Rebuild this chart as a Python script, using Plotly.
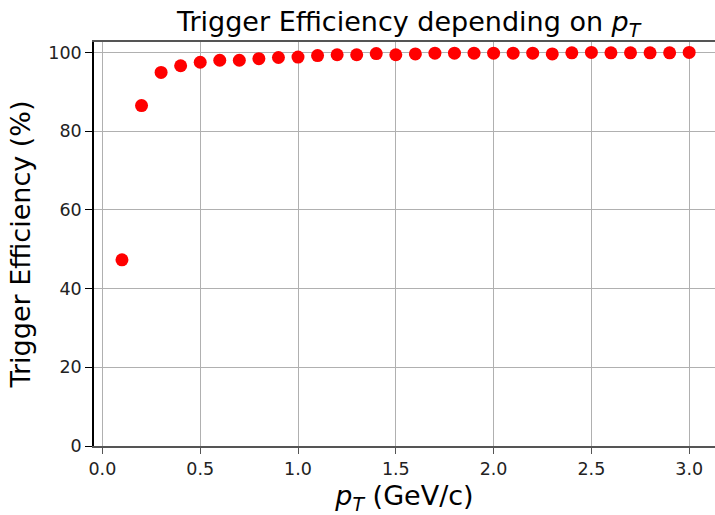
import plotly.graph_objects as go

pt = [0.1, 0.2, 0.3, 0.4, 0.5, 0.6, 0.7, 0.8, 0.9, 1.0,
      1.1, 1.2, 1.3, 1.4, 1.5, 1.6, 1.7, 1.8, 1.9, 2.0,
      2.1, 2.2, 2.3, 2.4, 2.5, 2.6, 2.7, 2.8, 2.9, 3.0]
efficiency = [47.3, 86.5, 94.9, 96.6, 97.5, 98.0, 98.0, 98.4, 98.7, 98.8,
              99.2, 99.4, 99.4, 99.7, 99.4, 99.6, 99.8, 99.8, 99.8, 99.8,
              99.8, 99.8, 99.6, 99.9, 100.0, 99.9, 99.9, 99.9, 99.9, 100.0]
x_ticks = [0.0, 0.5, 1.0, 1.5, 2.0, 2.5, 3.0]
x_tick_labels = ["0.0", "0.5", "1.0", "1.5", "2.0", "2.5", "3.0"]
y_ticks = [0, 20, 40, 60, 80, 100]
y_tick_labels = ["0", "20", "40", "60", "80", "100"]

FONT = "DejaVu Sans"

fig = go.Figure()
fig.add_trace(go.Scatter(
    x=pt, y=efficiency, mode="markers",
    marker=dict(color="#ff0000", size=13, line=dict(width=0)),
    showlegend=False,
))

fig.update_layout(
    width=715, height=515,
    margin=dict(l=94, r=0, t=42, b=69),
    paper_bgcolor="white", plot_bgcolor="white",
    font=dict(family=FONT, color="#222222"),
    title=dict(
        text="Trigger Efficiency depending on <i>p</i><sub><i>T</i></sub>",
        x=0.5715, xanchor="center", xref="container",
        y=1 - 22 / 515, yanchor="middle", yref="container",
        font=dict(family=FONT, size=27, color="#000000"),
    ),
)

fig.update_xaxes(
    range=[-0.043, 3.132],
    tickmode="array", tickvals=x_ticks, ticktext=x_tick_labels,
    tickfont=dict(family=FONT, size=17.5, color="#222222"),
    ticks="outside", ticklen=6, tickwidth=1.3, tickcolor="#555555",
    showgrid=True, gridcolor="#b0b0b0", gridwidth=1.3,
    showline=True, linecolor="#555555", linewidth=2, mirror=True,
    zeroline=False,
    title=dict(text="<i>p</i><sub><i>T</i></sub> (GeV/c)",
               font=dict(family=FONT, size=27, color="#000000"), standoff=8),
)
fig.update_yaxes(
    range=[0, 102.64],
    tickmode="array", tickvals=y_ticks, ticktext=y_tick_labels,
    tickfont=dict(family=FONT, size=17.5, color="#222222"),
    ticks="outside", ticklen=7, tickwidth=1.3, tickcolor="#000000",
    showgrid=True, gridcolor="#b0b0b0", gridwidth=1.3,
    showline=True, linecolor="#000000", linewidth=1.5, mirror=False,
    zeroline=False,
    title=dict(text="Trigger Efficiency (%)",
               font=dict(family=FONT, size=27, color="#000000"), standoff=10),
)

fig.write_html("out.html")
